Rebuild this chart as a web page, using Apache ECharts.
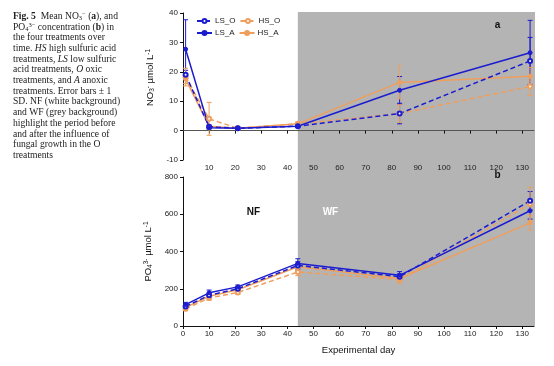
<!DOCTYPE html>
<html><head><meta charset="utf-8">
<script src="https://cdn.jsdelivr.net/npm/echarts@6/dist/echarts.min.js"></script>
<style>html,body{margin:0;padding:0;background:#fff}#c{width:554px;height:366px}</style>
</head><body><div id="c"></div>
<script>
// ---- data ----
const days = [1, 10, 21, 44, 83, 133];
const xTicks = [0, 10, 20, 30, 40, 50, 60, 70, 80, 90, 100, 110, 120, 130];
const xMax = 134.5;
const wfStart = 44;
const no3Ticks = [-10, 0, 10, 20, 30, 40];
const po4Ticks = [0, 200, 400, 600, 800];

const no3_LS_O = [19.0, 1.3, 0.8, 1.5, 5.8, 23.7];
const no3_LS_O_sd = [1.5, 0.5, 0.3, 0.4, 3.5, 8.0];
const no3_LS_A = [27.7, 1.0, 0.8, 1.5, 13.7, 26.5];
const no3_LS_A_sd = [10.0, 0.5, 0.3, 0.4, 4.7, 11.0];
const no3_HS_O = [18.2, 4.0, 0.8, 2.3, 5.8, 15.0];
const no3_HS_O_sd = [3.0, 5.6, 0.3, 0.5, 3.0, 3.0];
const no3_HS_A = [17.5, 1.5, 0.8, 2.3, 16.4, 18.5];
const no3_HS_A_sd = [1.5, 0.5, 0.3, 0.5, 5.6, 3.0];

const po4_LS_O = [105, 165, 200, 325, 265, 672];
const po4_LS_O_sd = [10, 12, 10, 20, 15, 50];
const po4_LS_A = [115, 178, 210, 336, 272, 619];
const po4_LS_A_sd = [12, 15, 10, 25, 20, 45];
const po4_HS_O = [92, 150, 180, 290, 250, 655];
const po4_HS_O_sd = [10, 12, 10, 20, 20, 90];
const po4_HS_A = [100, 160, 195, 318, 255, 554];
const po4_HS_A_sd = [10, 12, 10, 20, 20, 40];

const BLUE = '#1c1ccf';
const ORANGE = '#ee9f5e';
const GREY = '#b4b4b4';
const SANS = 'Liberation Sans';
const SERIF = 'Liberation Serif';

const styles = {
  LS_O: {color: BLUE, dashed: true, symbol: 'emptyCircle'},
  LS_A: {color: BLUE, dashed: false, symbol: 'circle'},
  HS_O: {color: ORANGE, dashed: true, symbol: 'emptyCircle'},
  HS_A: {color: ORANGE, dashed: false, symbol: 'circle'}
};

function lineSeries(name, gi, vals) {
  const s = styles[name];
  return {
    type: 'line', name: name, xAxisIndex: gi, yAxisIndex: gi,
    data: days.map((d, i) => [d, vals[i]]),
    symbol: s.symbol, symbolSize: 4, color: s.color,
    itemStyle: {color: s.color, borderColor: s.color, borderWidth: 1},
    lineStyle: {color: s.color, width: 1.5, type: s.dashed ? [5, 3] : 'solid'},
    z: 3, animation: false
  };
}
function errSeries(name, gi, vals, sds) {
  const color = styles[name].color;
  return {
    type: 'custom', name: name + '_err', xAxisIndex: gi, yAxisIndex: gi,
    data: days.map((d, i) => [d, vals[i] - sds[i], vals[i] + sds[i]]),
    encode: {x: 0, y: [1, 2]}, silent: true, z: 2, animation: false,
    renderItem: function (params, api) {
      const x = api.value(0);
      const lo = api.coord([x, api.value(1)]);
      const hi = api.coord([x, api.value(2)]);
      const w = 2.5;
      const st = {stroke: color, lineWidth: 1};
      return {type: 'group', children: [
        {type: 'line', shape: {x1: lo[0], y1: lo[1], x2: hi[0], y2: hi[1]}, style: st},
        {type: 'line', shape: {x1: lo[0] - w, y1: lo[1], x2: lo[0] + w, y2: lo[1]}, style: st},
        {type: 'line', shape: {x1: hi[0] - w, y1: hi[1], x2: hi[0] + w, y2: hi[1]}, style: st}
      ]};
    }
  };
}

const capLines = [
  '{b|Fig. 5}  Mean NO{sub|3}{sup|−} ({b|a}), and',
  'PO{sub|4}{sup|3−} concentration ({b|b}) in',
  'the four treatments over',
  'time. {i|HS} high sulfuric acid',
  'treatments, {i|LS} low sulfuric',
  'acid treatments, {i|O} oxic',
  'treatments, and {i|A} anoxic',
  'treatments. Error bars ± 1',
  'SD. NF (white background)',
  'and WF (grey background)',
  'highlight the period before',
  'and after the influence of',
  'fungal growth in the O',
  'treatments'
];
const CAP_FS = 9.6, CAP_LH = 10.7;
const capBase = {fontFamily: SERIF, fontSize: CAP_FS, color: '#222', lineHeight: CAP_LH};

const axisNameRich = {
  n: {fontFamily: SANS, fontSize: 9.5, color: '#111'},
  sub: {fontFamily: SANS, fontSize: 6.5, color: '#111', verticalAlign: 'bottom', padding: [4, 0, 0, 0]},
  sup: {fontFamily: SANS, fontSize: 6.5, color: '#111', verticalAlign: 'top', padding: [0, 0, 4, 0]}
};

function xAxisCfg(gi, showZero, name) {
  return {
    type: 'value', gridIndex: gi, min: 0, max: xMax,
    axisLine: {show: true, onZero: true, lineStyle: {color: gi === 0 ? '#555' : '#111', width: 1}},
    axisTick: {show: true, length: 3, customValues: xTicks, lineStyle: {color: '#111'}},
    axisLabel: {customValues: showZero ? xTicks : xTicks.slice(1), fontFamily: SANS, fontSize: 8, color: '#222', margin: 4},
    splitLine: {show: false},
    name: name || '', nameLocation: 'middle', nameGap: 19,
    nameTextStyle: {fontFamily: SANS, fontSize: 9.5, color: '#111'}
  };
}
function yAxisCfg(gi, min, max, interval, name, pad) {
  return {
    type: 'value', gridIndex: gi, min: min, max: max, interval: interval,
    axisLine: {show: true, onZero: false, lineStyle: {color: '#111', width: 1}},
    axisTick: {show: true, length: 3, lineStyle: {color: '#111'}},
    axisLabel: {fontFamily: SANS, fontSize: 8, color: '#222', margin: 5},
    splitLine: {show: false},
    name: name, nameLocation: 'middle', nameGap: 21,
    nameTextStyle: {fontFamily: SANS, fontSize: 9.5, color: '#111', rich: axisNameRich, padding: pad}
  };
}

const chart = echarts.init(document.getElementById('c'), null, {renderer: 'canvas'});
chart.setOption({
  animation: false,
  backgroundColor: '#fff',
  title: {
    left: 8, top: 6,
    text: capLines.join('\n'),
    textStyle: Object.assign({fontWeight: 'normal', rich: {
      b: Object.assign({}, capBase, {fontWeight: 'bold'}),
      i: Object.assign({}, capBase, {fontStyle: 'italic'}),
      sub: Object.assign({}, capBase, {fontSize: 6.5, verticalAlign: 'bottom'}),
      sup: Object.assign({}, capBase, {fontSize: 6.5, verticalAlign: 'top'})
    }}, capBase)
  },
  legend: {
    left: 196, top: 17, width: 100, padding: 0,
    itemWidth: 15, itemHeight: 5, itemGap: 4,
    data: ['LS_O', 'HS_O', 'LS_A', 'HS_A'],
    textStyle: {fontFamily: SANS, fontSize: 8, color: '#222', padding: [0, 4, 0, -2]}
  },
  grid: [
    {left: 183, right: 20, top: 13, bottom: 206},
    {left: 183, right: 20, top: 177, bottom: 40}
  ],
  xAxis: [xAxisCfg(0, false), xAxisCfg(1, true, 'Experimental day')],
  yAxis: [
    yAxisCfg(0, no3Ticks[0], no3Ticks[no3Ticks.length - 1], 10, '{n|NO}{sub|3}{sup|-}{n| µmol L}{sup|-1}', [0, 0, 0, 18]),
    yAxisCfg(1, po4Ticks[0], po4Ticks[po4Ticks.length - 1], 200, '{n|PO}{sub|4}{sup|3-}{n| µmol L}{sup|-1}', [0, 0, 0, 0])
  ],
  series: [
    errSeries('LS_O', 0, no3_LS_O, no3_LS_O_sd),
    errSeries('LS_A', 0, no3_LS_A, no3_LS_A_sd),
    errSeries('HS_O', 0, no3_HS_O, no3_HS_O_sd),
    errSeries('HS_A', 0, no3_HS_A, no3_HS_A_sd),
    lineSeries('HS_O', 0, no3_HS_O),
    lineSeries('HS_A', 0, no3_HS_A),
    lineSeries('LS_O', 0, no3_LS_O),
    lineSeries('LS_A', 0, no3_LS_A),
    errSeries('LS_O', 1, po4_LS_O, po4_LS_O_sd),
    errSeries('LS_A', 1, po4_LS_A, po4_LS_A_sd),
    errSeries('HS_O', 1, po4_HS_O, po4_HS_O_sd),
    errSeries('HS_A', 1, po4_HS_A, po4_HS_A_sd),
    lineSeries('HS_O', 1, po4_HS_O),
    lineSeries('HS_A', 1, po4_HS_A),
    lineSeries('LS_O', 1, po4_LS_O),
    lineSeries('LS_A', 1, po4_LS_A)
  ]
});

// grey "WF" band spanning both panels, positioned through the axes
const pTop = chart.convertToPixel({gridIndex: 0}, [wfStart, no3Ticks[no3Ticks.length - 1]]);
const pBot = chart.convertToPixel({gridIndex: 1}, [xMax, po4Ticks[0]]);
const nfPos = chart.convertToPixel({gridIndex: 1}, [27, 610]);
const wfPos = chart.convertToPixel({gridIndex: 1}, [56.5, 610]);
const aPos = chart.convertToPixel({gridIndex: 0}, [120.5, 35.8]);
const bPos = chart.convertToPixel({gridIndex: 1}, [120.5, 811]);
const lab = (p, t, c) => ({type: 'text', x: p[0], y: p[1], z: 50,
  style: {text: t, fill: c, font: 'bold 10px "Liberation Sans"', align: 'center', verticalAlign: 'middle'}});
chart.setOption({
  graphic: [
    {type: 'rect', z: -100, silent: true,
     shape: {x: pTop[0], y: pTop[1] - 1, width: pBot[0] - pTop[0] + 1, height: pBot[1] - pTop[1] + 1},
     style: {fill: GREY}},
    lab(nfPos, 'NF', '#111'),
    lab(wfPos, 'WF', '#fff'),
    lab(aPos, 'a', '#111'),
    lab(bPos, 'b', '#111')
  ]
});
</script></body></html>
